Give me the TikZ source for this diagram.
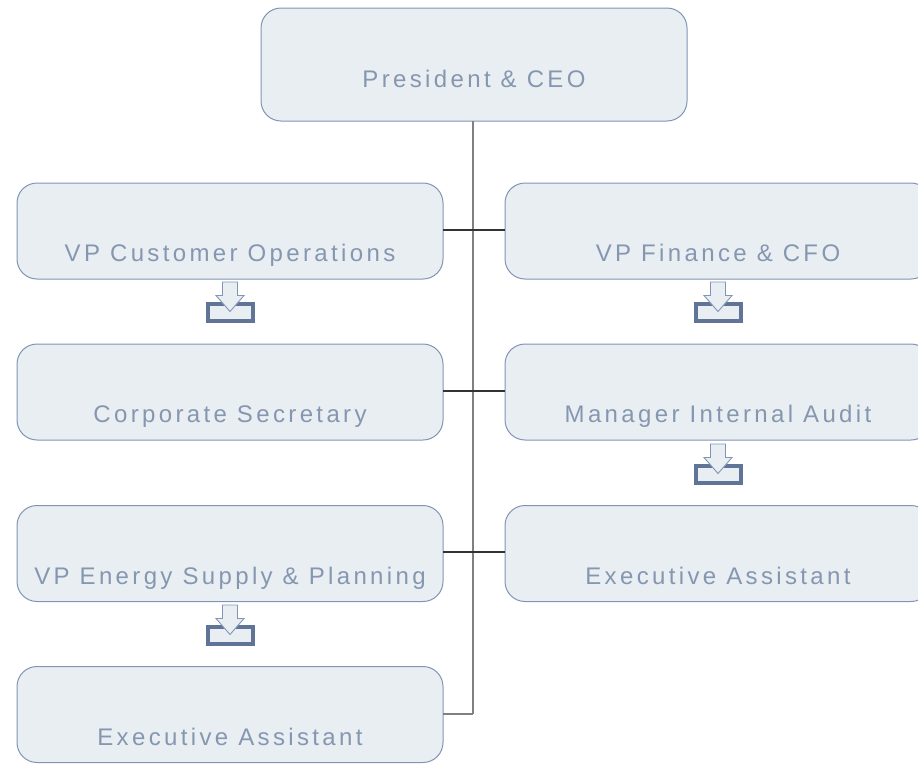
\documentclass[tikz,border=0pt]{standalone}
\usepackage{fontspec}
\setmainfont{Liberation Sans}[LetterSpace=14]
\begin{document}
\begin{tikzpicture}[x=1pt,y=-1pt,
  every node/.style={inner sep=0pt, outer sep=0pt},
  orgbox/.style={draw=boxline, fill=boxfill, line width=1pt, rounded corners=20pt,
    minimum width=426pt, minimum height=96pt, text=txt, font=\fontsize{24}{27}\selectfont,
    text height=61pt, text depth=0pt},
  spine/.style={draw=spinegray, line width=1.6pt},
  tie/.style={draw=tiedark, line width=1.1pt},
  iconbox/.style={draw=icondark, fill=boxfill, line width=4pt},
  iconarrow/.style={draw=iconline, fill=boxfill, line width=0.9pt, line join=miter}
]
\definecolor{boxline}{HTML}{8194B6}
\definecolor{boxfill}{HTML}{E9EEF2}
\definecolor{txt}{HTML}{8597B0}
\definecolor{spinegray}{HTML}{808080}
\definecolor{tiedark}{HTML}{333333}
\definecolor{icondark}{HTML}{5F7496}
\definecolor{iconline}{HTML}{8194B6}
\useasboundingbox (0,0) rectangle (918,764);
\clip (0,0) rectangle (918,764);

\node[orgbox, minimum height=113pt, text height=45pt] (ceo) at (474,64.5) {President \& CEO};
\node[orgbox] (l1) at (230,231) {VP Customer Operations};
\node[orgbox] (l2) at (230,392) {Corporate Secretary};
\node[orgbox] (l3) at (230,553.5) {VP Energy Supply \& Planning};
\node[orgbox] (l4) at (230,714.5) {Executive Assistant};
\node[orgbox] (r1) at (718,231) {VP Finance \& CFO};
\node[orgbox] (r2) at (718,392) {Manager Internal Audit};
\node[orgbox] (r3) at (718,553.5) {Executive Assistant};

\coordinate (top) at (473,121);
\coordinate (bot) at (473,714);
\draw[spine] (top) -- (bot);
\draw[tie] (l1.east |- 0,230) -- (r1.west |- 0,230);
\draw[tie] (l2.east |- 0,391) -- (r2.west |- 0,391);
\draw[tie] (l3.east |- 0,552) -- (r3.west |- 0,552);
\draw[spine, line width=1.2pt] (l4.east |- bot) -- (bot);

\foreach \cx/\cy in {230/282, 718/282, 718/444, 230/605}{
  \draw[iconbox] (\cx-22.5,\cy+22) rectangle (\cx+22.5,\cy+39);
  \draw[iconarrow] (\cx-7.5,\cy) -- (\cx+7.5,\cy) -- (\cx+7.5,\cy+13.5) -- (\cx+14,\cy+13.5)
     -- (\cx,\cy+29.5) -- (\cx-14,\cy+13.5) -- (\cx-7.5,\cy+13.5) -- cycle;
}
\end{tikzpicture}
\end{document}
